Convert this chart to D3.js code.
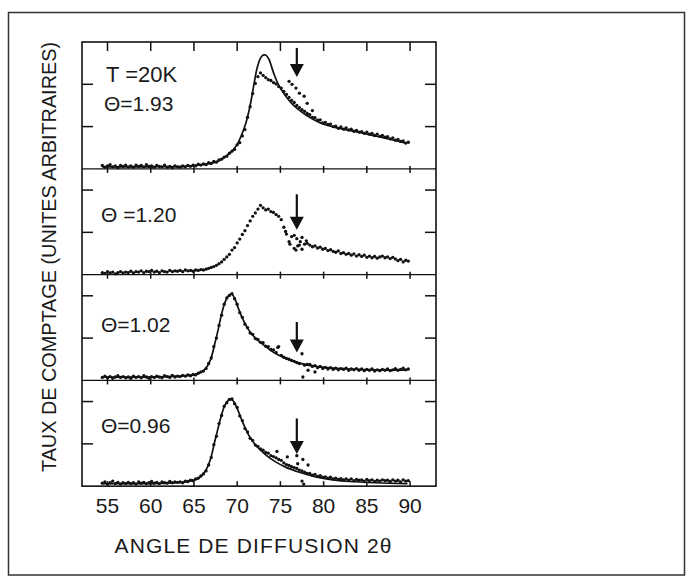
<!DOCTYPE html>
<html>
<head>
<meta charset="utf-8">
<script src="https://cdn.jsdelivr.net/npm/d3@7"></script>
<style>
  body { margin: 0; background: #fff; }
  text { font-family: "Liberation Sans", Arial, sans-serif; fill: #1a1a1a; }
</style>
</head>
<body>
<div id="chart"></div>
<script>
// scattering angles 2theta (deg) of the measured points
const angles = [
  54.4,54.7,55.0,55.3,55.6,55.9,56.2,56.5,56.8,57.1,
  57.4,57.7,58.0,58.3,58.6,58.9,59.2,59.5,59.8,60.1,
  60.4,60.7,61.0,61.3,61.6,61.9,62.2,62.5,62.8,63.1,
  63.4,63.7,64.0,64.3,64.6,64.9,65.2,65.5,65.8,66.1,
  66.4,66.7,67.0,67.3,67.6,67.9,68.2,68.5,68.8,69.1,
  69.4,69.7,70.0,70.3,70.6,70.9,71.2,71.5,71.8,72.1,
  72.4,72.7,73.0,73.3,73.6,73.9,74.2,74.5,74.8,75.1,
  75.4,75.7,76.0,76.3,76.6,76.9,77.2,77.5,77.8,78.1,
  78.4,78.7,79.0,79.3,79.6,79.9,80.2,80.5,80.8,81.1,
  81.4,81.7,82.0,82.3,82.6,82.9,83.2,83.5,83.8,84.1,
  84.4,84.7,85.0,85.3,85.6,85.9,86.2,86.5,86.8,87.1,
  87.4,87.7,88.0,88.3,88.6,88.9,89.2,89.5,89.8
];

// counts (arbitrary units, 1 = one tick) for each panel
const counts193 = [
  0.08,0.04,0.07,0.10,0.05,0.07,0.03,0.08,0.06,0.09,
  0.05,0.07,0.04,0.09,0.06,0.08,0.05,0.10,0.06,0.07,
  0.04,0.08,0.06,0.05,0.09,0.04,0.06,0.03,0.07,0.05,
  0.04,0.07,0.05,0.08,0.06,0.09,0.07,0.11,0.09,0.12,
  0.10,0.15,0.13,0.18,0.16,0.21,0.23,0.28,0.30,0.37,
  0.42,0.46,0.57,0.62,0.78,0.93,1.22,1.47,1.78,2.02,
  2.18,2.27,2.21,2.16,2.11,2.09,2.04,2.01,1.95,1.91,
  1.83,1.76,1.69,1.62,1.57,1.50,1.45,1.40,1.36,1.31,
  1.28,1.22,1.21,1.15,1.16,1.09,1.10,1.05,1.06,1.00,
  1.01,0.96,0.99,0.94,0.97,0.92,0.94,0.89,0.91,0.87,
  0.88,0.84,0.87,0.82,0.84,0.79,0.82,0.77,0.79,0.75,
  0.76,0.71,0.73,0.68,0.70,0.65,0.66,0.61,0.63
];
const counts120 = [
  0.05,0.03,0.07,0.04,0.06,0.02,0.05,0.07,0.04,0.06,
  0.05,0.08,0.04,0.07,0.06,0.09,0.05,0.08,0.07,0.10,
  0.06,0.08,0.05,0.09,0.07,0.06,0.10,0.07,0.09,0.08,
  0.10,0.07,0.11,0.09,0.10,0.08,0.11,0.10,0.12,0.11,
  0.13,0.15,0.17,0.19,0.22,0.26,0.30,0.36,0.42,0.48,
  0.58,0.64,0.75,0.84,0.95,1.04,1.16,1.27,1.38,1.46,
  1.55,1.64,1.58,1.53,1.55,1.49,1.47,1.42,1.38,1.30,
  1.12,0.96,0.78,0.90,0.62,0.85,0.70,0.88,0.72,0.74,
  0.70,0.66,0.68,0.63,0.65,0.60,0.62,0.57,0.59,0.55,
  0.53,0.56,0.50,0.52,0.48,0.50,0.46,0.49,0.44,0.47,
  0.43,0.46,0.41,0.44,0.40,0.43,0.39,0.42,0.44,0.40,
  0.42,0.38,0.41,0.37,0.33,0.36,0.30,0.34,0.32
];
const counts102 = [
  0.07,0.10,0.06,0.09,0.05,0.08,0.11,0.07,0.09,0.06,
  0.08,0.05,0.10,0.07,0.09,0.06,0.11,0.08,0.05,0.09,
  0.07,0.10,0.08,0.06,0.11,0.09,0.07,0.12,0.08,0.10,
  0.09,0.12,0.10,0.13,0.11,0.14,0.13,0.17,0.20,0.22,
  0.28,0.40,0.53,0.80,1.00,1.30,1.54,1.80,1.95,2.01,
  2.05,1.93,1.80,1.60,1.49,1.33,1.25,1.12,1.09,0.99,
  0.97,0.90,0.89,0.81,0.80,0.73,0.72,0.66,0.80,0.59,
  0.55,0.52,0.50,0.47,0.45,0.42,0.40,0.63,0.36,0.38,
  0.38,0.33,0.35,0.30,0.33,0.28,0.31,0.27,0.30,0.26,
  0.29,0.25,0.28,0.26,0.29,0.24,0.27,0.25,0.28,0.24,
  0.27,0.23,0.26,0.24,0.27,0.22,0.25,0.23,0.26,0.24,
  0.27,0.23,0.25,0.28,0.24,0.26,0.29,0.25,0.27
];
const counts096 = [
  0.07,0.10,0.05,0.08,0.12,0.06,0.09,0.05,0.08,0.06,
  0.09,0.06,0.08,0.05,0.10,0.07,0.09,0.06,0.08,0.11,
  0.07,0.09,0.06,0.10,0.08,0.07,0.11,0.08,0.10,0.09,
  0.10,0.08,0.12,0.11,0.14,0.13,0.17,0.19,0.24,0.29,
  0.36,0.50,0.68,0.98,1.18,1.48,1.67,1.89,1.97,2.05,
  2.06,1.95,1.86,1.66,1.55,1.36,1.28,1.13,1.08,0.97,
  0.94,0.88,0.85,0.80,0.78,0.72,0.70,0.67,0.63,0.61,
  0.55,0.51,0.49,0.46,0.44,0.42,0.38,0.36,0.33,0.30,
  0.30,0.26,0.28,0.23,0.25,0.21,0.22,0.19,0.21,0.17,
  0.19,0.16,0.18,0.15,0.17,0.14,0.17,0.13,0.16,0.14,
  0.15,0.12,0.16,0.13,0.15,0.11,0.14,0.12,0.15,0.13,
  0.14,0.11,0.15,0.12,0.14,0.10,0.15,0.12,0.13
];

// extra points scattered around the arrow, [angle, counts]
const extra193 = [[76.0,2.07],[76.35,2.0],[76.8,1.91],[77.2,1.79],[77.75,1.72],[78.1,1.55],[78.7,1.38]];
const extra120 = [[75.6,1.02],[76.1,0.72],[76.6,0.93],[76.8,0.58],[77.0,0.68],[77.3,0.78],[77.5,0.6],[78.0,0.8]];
const extra102 = [[74.7,0.78],[77.6,0.08],[78.2,0.24],[79.0,0.2]];
const extra096 = [[74.6,0.82],[75.8,0.69],[76.9,0.72],[77.0,0.53],[77.6,0.63],[78.2,0.5],[77.5,0.12],[77.7,0.05]];

// fitted curves, [angle, counts]
const fit193 = [[54.4,0.05],[60,0.05],[64,0.06],[66,0.1],[67.5,0.16],[68.5,0.27],[69.4,0.42],[70.0,0.58],
  [70.5,0.8],[71.0,1.08],[71.5,1.5],[71.9,1.95],[72.3,2.38],[72.7,2.62],[73.0,2.69],[73.3,2.69],[73.7,2.58],
  [74.0,2.4],[74.3,2.22],[74.8,1.98],[75.5,1.75],[76.3,1.55],[77.0,1.42],[78.0,1.27],[79.5,1.1],[81.0,1.0],
  [82.5,0.93],[84.0,0.87],[85.5,0.8],[87.0,0.73],[88.5,0.66],[89.6,0.6]];
const fit102 = [[54.4,0.08],[62,0.09],[64.5,0.12],[65.5,0.16],[66.3,0.27],[66.9,0.48],[67.4,0.86],[67.8,1.2],
  [68.2,1.57],[68.6,1.85],[69.0,2.0],[69.35,2.04],[69.7,1.95],[70.0,1.78],[70.6,1.47],[71.3,1.2],[72.1,1.0],
  [73.3,0.8],[74.4,0.64],[75.6,0.52],[77.2,0.41],[79.1,0.33],[81.1,0.29],[83,0.27],[86,0.25],[89.7,0.24]];
const fit096 = [[54.4,0.06],[60,0.06],[63,0.08],[64.5,0.12],[65.5,0.18],[66.3,0.35],[66.9,0.63],[67.4,1.05],
  [67.8,1.38],[68.2,1.69],[68.6,1.92],[69.0,2.03],[69.3,2.05],[69.6,2.0],[70.0,1.84],[70.6,1.53],[71.3,1.22],
  [72.1,0.98],[73.3,0.74],[74.4,0.58],[75.6,0.45],[77.2,0.33],[79.1,0.22],[81.1,0.15],[83,0.11],[86,0.08],[89.7,0.06]];

const thetaLabels = ["\u0398=1.93", "\u0398 =1.20", "\u0398=1.02", "\u0398=0.96"];
const tempLabel = "T =20K";
const xTicks = [55, 60, 65, 70, 75, 80, 85, 90];
const panelMax = [3, 2.5, 2.5, 2.5];
const arrowAngle = 76.9;
const arrowTop = [2.86, 1.9, 1.38, 1.6];
const arrowTip = [2.17, 1.06, 0.66, 0.76];

const panels = [
  {counts: counts193, extra: extra193, fit: fit193},
  {counts: counts120, extra: extra120, fit: null},
  {counts: counts102, extra: extra102, fit: fit102},
  {counts: counts096, extra: extra096, fit: fit096}
];

const W = 686, H = 579;
const left = 82, right = 436, top0 = 42, unit = 42.3;

const svg = d3.select("#chart").append("svg")
              .attr("width", W)
              .attr("height", H);

// outer frame of the scanned figure
svg.append("rect")
   .attr("x", 8.5).attr("y", 12.5)
   .attr("width", 676).attr("height", 562.5)
   .attr("fill", "none").attr("stroke", "#333").attr("stroke-width", 1.5);

const x = d3.scaleLinear().domain([52.05, 93.0]).range([left, right]);
const line = d3.line().x(d => x(d[0])).y(d => d[1]).curve(d3.curveCatmullRom.alpha(0.5));

let yPos = top0;
panels.forEach((p, i) => {
  const h = panelMax[i] * unit;
  const y = d3.scaleLinear().domain([0, panelMax[i]]).range([yPos + h, yPos]);
  const g = svg.append("g");

  // y ticks, inward on both sides
  d3.range(1, panelMax[i]).forEach(t => {
    g.append("line").attr("x1", left).attr("x2", left + 11)
     .attr("y1", y(t)).attr("y2", y(t)).attr("stroke", "#111").attr("stroke-width", 1.5);
    g.append("line").attr("x1", right - 11).attr("x2", right)
     .attr("y1", y(t)).attr("y2", y(t)).attr("stroke", "#111").attr("stroke-width", 1.5);
  });

  // x ticks on the top edge of each panel
  xTicks.forEach(t => {
    g.append("line").attr("x1", x(t)).attr("x2", x(t))
     .attr("y1", i == 0 ? yPos : yPos - 3).attr("y2", i == 0 ? yPos + 9 : yPos + 4)
     .attr("stroke", "#111").attr("stroke-width", 1.5);
  });

  // fitted curve
  if (p.fit) {
    g.append("path")
     .datum(p.fit.map(d => [d[0], y(d[1])]))
     .attr("d", line)
     .attr("fill", "none").attr("stroke", "#111").attr("stroke-width", 1.7);
  }

  // measured points
  g.selectAll(".pt").data(angles.map((a, k) => [a, p.counts[k]]).concat(p.extra))
   .enter().append("circle")
   .attr("cx", d => x(d[0])).attr("cy", d => y(d[1]))
   .attr("r", 1.65).attr("fill", "#111");

  // arrow
  const ax = x(arrowAngle), yt = y(arrowTip[i]);
  g.append("line").attr("x1", ax).attr("x2", ax)
   .attr("y1", y(arrowTop[i])).attr("y2", yt - 10)
   .attr("stroke", "#111").attr("stroke-width", 2.2);
  g.append("path")
   .attr("d", `M${ax - 7},${yt - 13}L${ax + 7},${yt - 13}L${ax},${yt}Z`)
   .attr("fill", "#111");

  // panel label
  g.append("text")
   .attr("x", i == 0 ? 104 : 101)
   .attr("y", i == 0 ? yPos + 69 : yPos + (i == 2 ? 57 : 53))
   .attr("font-size", 21)
   .text(thetaLabels[i]);
  if (i == 0) {
    g.append("text").attr("x", 106).attr("y", yPos + 40)
     .attr("font-size", 22).text(tempLabel);
  }

  yPos += h;
});

// frame around the stacked panels and separators
svg.append("rect")
   .attr("x", left).attr("y", top0)
   .attr("width", right - left).attr("height", yPos - top0)
   .attr("fill", "none").attr("stroke", "#111").attr("stroke-width", 1.6);
let sep = top0;
panelMax.slice(0, -1).forEach(m => {
  sep += m * unit;
  svg.append("line").attr("x1", left).attr("x2", right)
     .attr("y1", sep).attr("y2", sep)
     .attr("stroke", "#111").attr("stroke-width", 1.4);
});

// bottom ticks and labels
xTicks.forEach(t => {
  svg.append("line").attr("x1", x(t)).attr("x2", x(t))
     .attr("y1", yPos - 5).attr("y2", yPos)
     .attr("stroke", "#111").attr("stroke-width", 1.5);
  svg.append("text")
     .attr("x", x(t)).attr("y", yPos + 27)
     .attr("text-anchor", "middle")
     .attr("font-size", 21)
     .text(t);
});

// axis titles
svg.append("text")
   .attr("x", 253).attr("y", 553)
   .attr("text-anchor", "middle")
   .attr("font-size", 21)
   .attr("textLength", 277).attr("lengthAdjust", "spacing")
   .text("ANGLE DE DIFFUSION 2\u03b8");

svg.append("text")
   .attr("transform", "translate(56,257)rotate(-90)")
   .attr("text-anchor", "middle")
   .attr("font-size", 20)
   .attr("textLength", 430).attr("lengthAdjust", "spacingAndGlyphs")
   .text("TAUX DE COMPTAGE (UNITES ARBITRAIRES)");
</script>
</body>
</html>
